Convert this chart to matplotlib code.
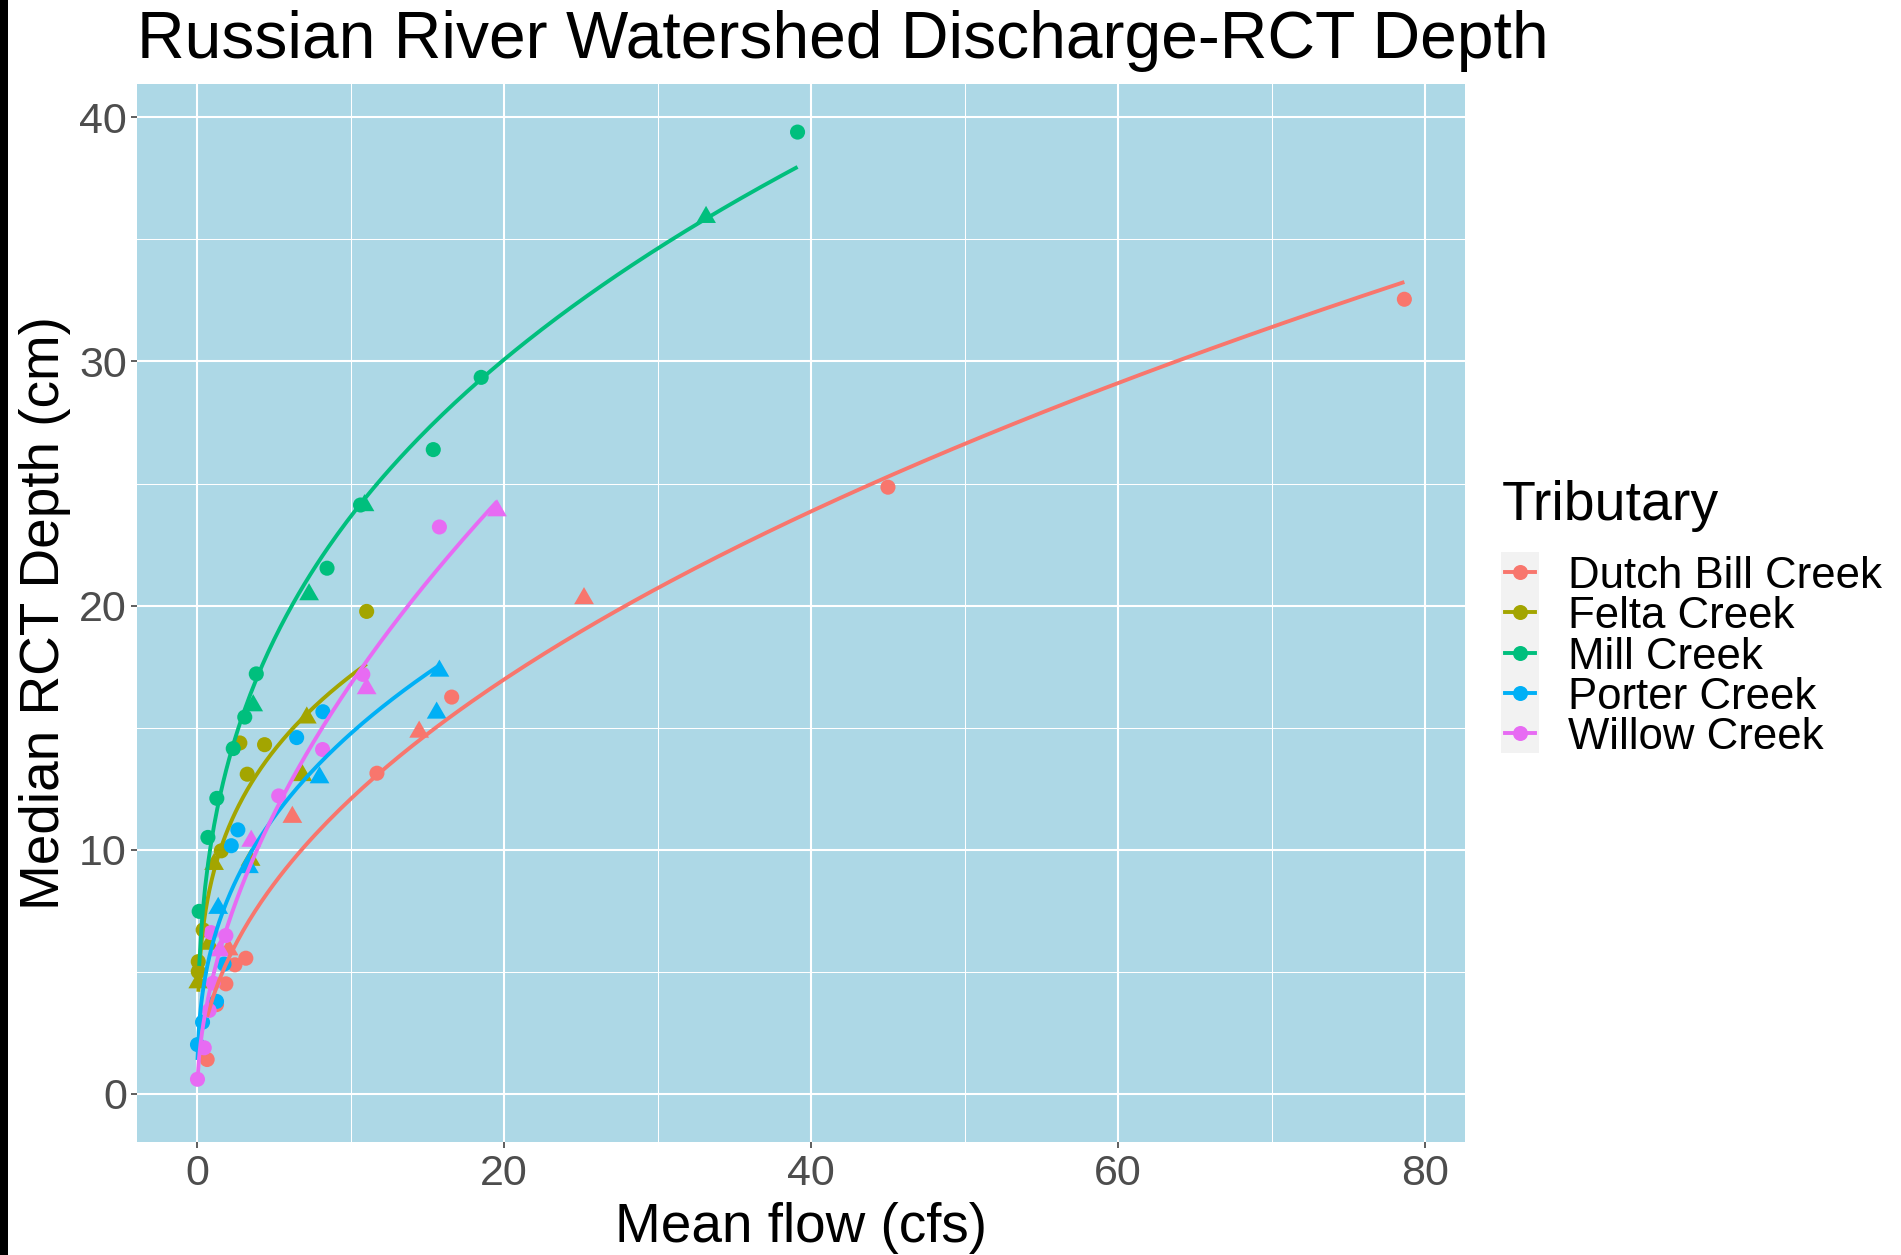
import numpy as np
import matplotlib
matplotlib.use("Agg")
import matplotlib.pyplot as plt
from matplotlib.lines import Line2D
from matplotlib.patches import Rectangle

# ---------------- data ----------------
tributaries = ["Dutch Bill Creek", "Felta Creek", "Mill Creek", "Porter Creek", "Willow Creek"]
colors = ["#F8766D", "#A3A500", "#00BF7D", "#00B0F6", "#E76BF3"]

dutch_x = [78.64, 45.0, 16.58, 11.71, 3.17, 2.46, 1.87, 1.26, 0.65, 25.2, 14.46, 6.2, 2.05]
dutch_y = [32.55, 24.85, 16.25, 13.13, 5.55, 5.28, 4.5, 3.65, 1.4, 20.29, 14.82, 11.33, 5.9]
dutch_shape = ["o"] * 9 + ["^"] * 4

felta_x = [11.04, 4.39, 2.78, 3.26, 1.57, 0.39, 0.07, 0.07, 7.14, 6.85, 3.48, 1.1, 0.78, 0.07]
felta_y = [19.76, 14.3, 14.37, 13.09, 9.95, 6.71, 5.41, 5.0, 15.4, 13.04, 9.57, 9.4, 6.13, 4.55]
felta_shape = ["o"] * 8 + ["^"] * 6

mill_x = [39.11, 18.5, 15.38, 10.64, 8.46, 3.85, 3.1, 2.35, 1.28, 0.7, 0.13, 33.15, 10.9, 7.29, 3.65]
mill_y = [39.4, 29.35, 26.39, 24.12, 21.53, 17.2, 15.43, 14.14, 12.1, 10.5, 7.47, 35.91, 24.1, 20.45, 15.9]
mill_shape = ["o"] * 11 + ["^"] * 4

porter_x = [8.19, 6.48, 2.65, 2.22, 1.75, 1.26, 0.35, 0.02, 15.78, 15.6, 7.97, 3.37, 1.37]
porter_y = [15.65, 14.59, 10.81, 10.16, 5.31, 3.78, 2.93, 2.01, 17.32, 15.6, 12.95, 9.27, 7.6]
porter_shape = ["o"] * 8 + ["^"] * 5

willow_x = [15.78, 10.79, 8.17, 5.31, 1.87, 0.9, 1.04, 0.78, 0.46, 0.02, 19.53, 11.04, 3.52, 1.48]
willow_y = [23.22, 17.18, 14.1, 12.2, 6.48, 6.6, 4.53, 3.41, 1.88, 0.59, 23.89, 16.6, 10.35, 5.86]
willow_shape = ["o"] * 10 + ["^"] * 4

x_ticks = [0, 20, 40, 60, 80]
y_ticks = [0, 10, 20, 30, 40]

groups = [
    (dutch_x, dutch_y, dutch_shape),
    (felta_x, felta_y, felta_shape),
    (mill_x, mill_y, mill_shape),
    (porter_x, porter_y, porter_shape),
    (willow_x, willow_y, willow_shape),
]


def fit_power(x, y):
    """Non-linear least squares fit of y = a * x^b (Gauss-Newton)."""
    x = np.asarray(x, float)
    y = np.asarray(y, float)
    b, loga = np.polyfit(np.log(x), np.log(y), 1)
    a = np.exp(loga)
    for _ in range(200):
        f = a * x ** b
        J = np.column_stack([x ** b, a * x ** b * np.log(x)])
        r = y - f
        d = np.linalg.lstsq(J, r, rcond=None)[0]
        step = 1.0
        while step > 1e-4:
            na, nb = a + step * d[0], b + step * d[1]
            if np.sum((y - na * x ** nb) ** 2) <= np.sum(r ** 2):
                break
            step /= 2
        a, b = na, nb
        if np.max(np.abs(step * d)) < 1e-10:
            break
    return a, b


# R-style filled triangle (centroid at the data point)
TRIANGLE = [(0.0, 1.0), (-0.866, -0.5), (0.866, -0.5), (0.0, 1.0)]

# ---------------- figure ----------------
plt.rcParams["font.family"] = ["Liberation Sans", "DejaVu Sans"]
W, H = 1901, 1255
fig = plt.figure(figsize=(W / 100, H / 100), dpi=100)
fig.patch.set_facecolor("white")
fig.patches.append(Rectangle((0, 0), 7.5 / W, 1, transform=fig.transFigure,
                             facecolor="black", edgecolor="none", zorder=10))

L, R, T, B = 137, 1465, 84, 1142
ax = fig.add_axes([L / W, 1 - B / H, (R - L) / W, (B - T) / H])
ax.set_facecolor("#ADD8E6")
for s in ax.spines.values():
    s.set_visible(False)

ax.set_xlim(-3.92, 82.59)
ax.set_ylim(-1.98, 41.37)
ax.set_xticks(x_ticks)
ax.set_yticks(y_ticks)
ax.set_xticks([10, 30, 50, 70], minor=True)
ax.set_yticks([5, 15, 25, 35], minor=True)
ax.grid(which="major", color="white", linewidth=1.5)
ax.grid(which="minor", color="white", linewidth=0.75)
ax.set_axisbelow(True)
ax.tick_params(which="major", length=4.3, width=1.1, color="#333333",
               labelsize=31, labelcolor="#4D4D4D")
ax.tick_params(axis="x", pad=4)
ax.tick_params(axis="y", pad=3)
ax.tick_params(which="minor", length=0)

# points
for (gx, gy, gs), col in zip(groups, colors):
    gx = np.asarray(gx)
    gy = np.asarray(gy)
    gs = np.asarray(gs)
    m = gs == "o"
    ax.scatter(gx[m], gy[m], marker="o", s=118, color=col,
               edgecolors="none", zorder=3)
    m = gs == "^"
    ax.scatter(gx[m], gy[m], marker=TRIANGLE, s=270, color=col,
               edgecolors="none", zorder=3)

# fitted power curves
for (gx, gy, gs), col in zip(groups, colors):
    a, b = fit_power(gx, gy)
    xs = np.linspace(min(gx), max(gx), 200)
    ax.plot(xs, a * xs ** b, color=col, linewidth=2.8, zorder=4,
            solid_capstyle="butt")

# titles
fig.text(137 / W, 1 - 58 / H, "Russian River Watershed Discharge-RCT Depth",
         fontsize=47.5, ha="left", va="baseline", color="black")
fig.text(801 / W, 1 - 1241.7 / H, "Mean flow (cfs)", fontsize=39.5,
         ha="center", va="baseline", color="black")
fig.text(59 / W, 1 - 613 / H, "Median RCT Depth (cm)", fontsize=39.5,
         rotation=90, rotation_mode="anchor", ha="center", va="baseline",
         color="black")

# legend (drawn manually in figure pixels)
fig.text(1501.7 / W, 1 - 520 / H, "Tributary", fontsize=40,
         ha="left", va="baseline", color="black")
fig.patches.append(Rectangle((1501 / W, 1 - 753.3 / H), 38 / W, 201.6 / H,
                             transform=fig.transFigure, facecolor="#F2F2F2",
                             edgecolor="none"))
key_y = [571.7, 612.3, 652.7, 692.7, 733.3]
for name, col, ky in zip(tributaries, colors, key_y):
    fig.add_artist(Line2D([1505 / W, 1535 / W], [1 - ky / H, 1 - ky / H],
                          transform=fig.transFigure, color=col, linewidth=2.8))
    fig.add_artist(Line2D([1520 / W], [1 - ky / H], transform=fig.transFigure,
                          marker="o", markersize=10.8, color=col,
                          markeredgewidth=0))
    fig.text(1568 / W, 1 - ky / H, name, fontsize=31.5, ha="left",
             va="center_baseline", color="black")

fig.savefig("out.png", dpi=100)
